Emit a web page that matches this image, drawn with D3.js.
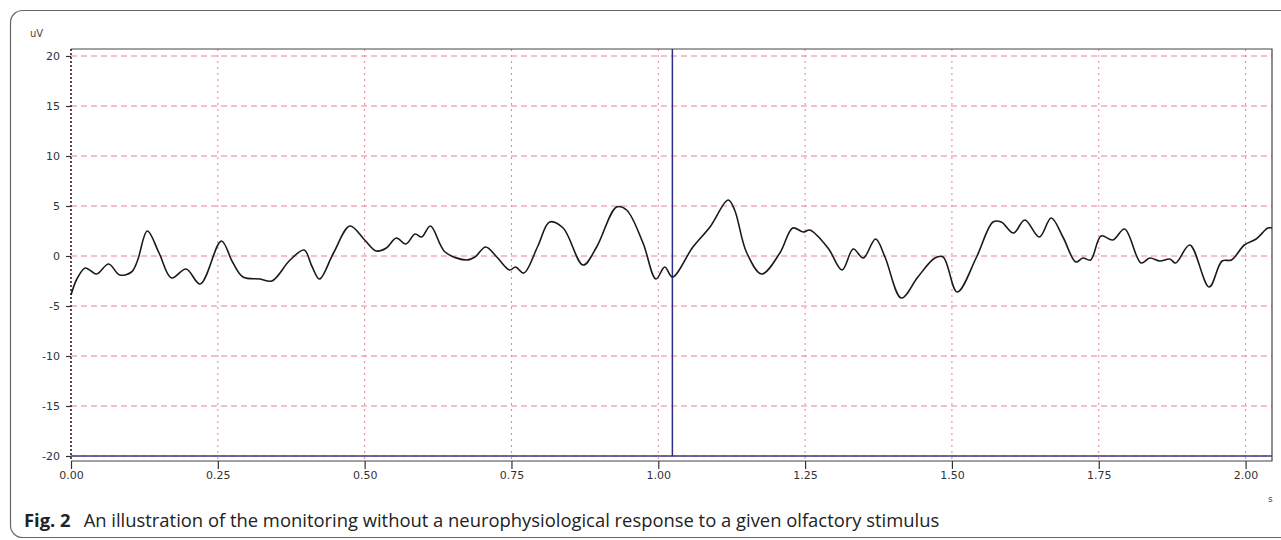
<!DOCTYPE html>
<html>
<head>
<meta charset="utf-8">
<script src="https://cdn.jsdelivr.net/npm/d3@7"></script>
<style>
    body { margin: 0; background: #fff; }
    svg { display: block; }
</style>
</head>
<body>
<div id="chart"></div>
<script>
// EEG trace: time (s) and amplitude (uV)
const times = [
    0.000, 0.010, 0.024, 0.034, 0.044, 0.064, 0.083, 0.103, 0.113, 0.130,
    0.150, 0.171, 0.196, 0.220, 0.256, 0.275, 0.293, 0.322, 0.342, 0.373,
    0.397, 0.410, 0.423, 0.447, 0.475, 0.500, 0.520, 0.537, 0.554, 0.570,
    0.586, 0.597, 0.612, 0.637, 0.674, 0.688, 0.706, 0.725, 0.747, 0.757,
    0.771, 0.795, 0.815, 0.838, 0.872, 0.895, 0.929, 0.946, 0.974, 0.996,
    1.011, 1.024, 1.059, 1.088, 1.119, 1.130, 1.150, 1.176, 1.207, 1.229,
    1.247, 1.258, 1.289, 1.313, 1.332, 1.349, 1.370, 1.386, 1.414, 1.442,
    1.471, 1.485, 1.509, 1.542, 1.570, 1.584, 1.605, 1.624, 1.649, 1.669,
    1.689, 1.711, 1.723, 1.736, 1.754, 1.774, 1.794, 1.822, 1.837, 1.854,
    1.871, 1.881, 1.905, 1.938, 1.960, 1.976, 1.998, 2.018, 2.038, 2.045
];
const values = [
    -3.9, -2.3, -1.2, -1.5, -1.8, -0.8, -1.9, -1.6, -0.5, 2.5,
    0.3, -2.2, -1.3, -2.8, 1.5, -0.6, -2.1, -2.3, -2.5, -0.4,
    0.6, -1.0, -2.3, 0.3, 3.0, 1.6, 0.5, 0.8, 1.8, 1.2,
    2.2, 1.9, 3.0, 0.4, -0.4, -0.1, 0.9, -0.1, -1.4, -1.1,
    -1.7, 1.0, 3.4, 2.8, -0.9, 0.9, 4.9, 4.6, 1.3, -2.3,
    -1.1, -2.1, 0.9, 2.9, 5.6, 4.6, 0.4, -1.8, 0.3, 2.8,
    2.4, 2.6, 0.8, -1.4, 0.7, -0.2, 1.7, -0.1, -4.2, -2.1,
    -0.2, -0.1, -3.6, -0.1, 3.4, 3.4, 2.3, 3.6, 1.9, 3.8,
    1.9, -0.6, -0.2, -0.4, 2.0, 1.6, 2.7, -0.7, -0.2, -0.5,
    -0.3, -0.7, 1.1, -3.1, -0.5, -0.4, 1.1, 1.7, 2.8, 2.8
];

const yTicks = [20, 15, 10, 5, 0, -5, -10, -15, -20];
const xTicks = [0, 0.25, 0.5, 0.75, 1.0, 1.25, 1.5, 1.75, 2.0];
const markerTime = 1.024;
const baselineValue = -20;
const yUnit = 'uV';
const xUnit = 's';
const captionLabel = 'Fig. 2';
const captionText = 'An illustration of the monitoring without a neurophysiological response to a given olfactory stimulus';

const W = 1281, H = 540;
const plot = {left: 71, right: 1272, top: 49, bottom: 461};

const svg = d3.select('#chart')
    .append('svg')
    .attr('width', W)
    .attr('height', H);

// outer figure frame (runs off the right edge)
svg.append('rect')
    .attr('x', 10.5)
    .attr('y', 10.5)
    .attr('width', 1300)
    .attr('height', 527)
    .attr('rx', 12)
    .attr('fill', 'none')
    .attr('stroke', '#666')
    .attr('stroke-width', 1.2);

const x = d3.scaleLinear()
    .domain([0, 2.045])
    .range([plot.left, plot.right]);

const y = d3.scaleLinear()
    .domain([-20.5, 20.7])
    .range([plot.bottom, plot.top]);

const gridColor = '#e8838f';

// horizontal grid
svg.append('g')
    .selectAll('line')
    .data(yTicks)
    .enter()
    .append('line')
    .attr('x1', plot.left)
    .attr('x2', plot.right)
    .attr('y1', d => y(d))
    .attr('y2', d => y(d))
    .attr('stroke', gridColor)
    .attr('stroke-width', 1)
    .attr('stroke-dasharray', '6,4');

// vertical grid
svg.append('g')
    .selectAll('line')
    .data(xTicks.filter(d => d > 0))
    .enter()
    .append('line')
    .attr('x1', d => x(d))
    .attr('x2', d => x(d))
    .attr('y1', plot.top)
    .attr('y2', plot.bottom)
    .attr('stroke', gridColor)
    .attr('stroke-width', 1)
    .attr('stroke-dasharray', '2,4');

// plot border: top, right, bottom
svg.append('path')
    .attr('d', `M${plot.left},${plot.top}H${plot.right}V${plot.bottom}H${plot.left}`)
    .attr('fill', 'none')
    .attr('stroke', '#444')
    .attr('stroke-width', 1.2);

// left axis line, dotted dark
svg.append('line')
    .attr('x1', plot.left)
    .attr('x2', plot.left)
    .attr('y1', plot.top)
    .attr('y2', plot.bottom)
    .attr('stroke', '#3a1a1a')
    .attr('stroke-width', 1.6)
    .attr('stroke-dasharray', '2,2');

// baseline and stimulus marker
svg.append('line')
    .attr('x1', plot.left)
    .attr('x2', plot.right)
    .attr('y1', y(baselineValue))
    .attr('y2', y(baselineValue))
    .attr('stroke', '#3b3b8f')
    .attr('stroke-width', 1.5);

svg.append('line')
    .attr('x1', x(markerTime))
    .attr('x2', x(markerTime))
    .attr('y1', plot.top)
    .attr('y2', y(baselineValue))
    .attr('stroke', '#2e2e88')
    .attr('stroke-width', 1.5);

// axes (plain hyphen minus, as in the source figure)
const yAxis = svg.append('g')
    .attr('transform', `translate(${plot.left},0)`)
    .call(d3.axisLeft(y).tickValues(yTicks).tickSize(5).tickPadding(6).tickFormat(d => String(d)));

const xAxis = svg.append('g')
    .attr('transform', `translate(0,${plot.bottom})`)
    .call(d3.axisBottom(x).tickValues(xTicks).tickSize(8).tickPadding(2).tickFormat(d => d.toFixed(2)));

[yAxis, xAxis].forEach(g => {
    g.select('.domain').remove();
    g.selectAll('.tick line').attr('stroke', '#333').attr('stroke-width', 1.2);
    g.selectAll('.tick text')
        .attr('fill', '#333')
        .style('font-family', '"DejaVu Sans", sans-serif')
        .style('font-size', '11px');
});

// unit labels
svg.append('text')
    .attr('x', 30)
    .attr('y', 37)
    .attr('fill', '#444')
    .style('font-family', '"DejaVu Sans", sans-serif')
    .style('font-size', '10px')
    .text(yUnit);

svg.append('text')
    .attr('x', 1268)
    .attr('y', 502)
    .attr('fill', '#444')
    .style('font-family', '"DejaVu Sans", sans-serif')
    .style('font-size', '9px')
    .text(xUnit);

// trace
const line = d3.line()
    .x((d, i) => x(times[i]))
    .y(d => y(d))
    .curve(d3.curveCatmullRom.alpha(0.5));

svg.append('path')
    .datum(values)
    .attr('fill', 'none')
    .attr('stroke', '#1a1a1a')
    .attr('stroke-width', 1.6)
    .attr('stroke-linejoin', 'round')
    .attr('d', line);

// caption
const caption = svg.append('text')
    .attr('x', 24)
    .attr('y', 527)
    .attr('fill', '#222')
    .style('font-family', '"Open Sans", sans-serif')
    .style('font-size', '18.4px');

caption.append('tspan')
    .style('font-weight', 'bold')
    .text(captionLabel);

caption.append('tspan')
    .attr('dx', 13)
    .text(captionText);
</script>
</body>
</html>
